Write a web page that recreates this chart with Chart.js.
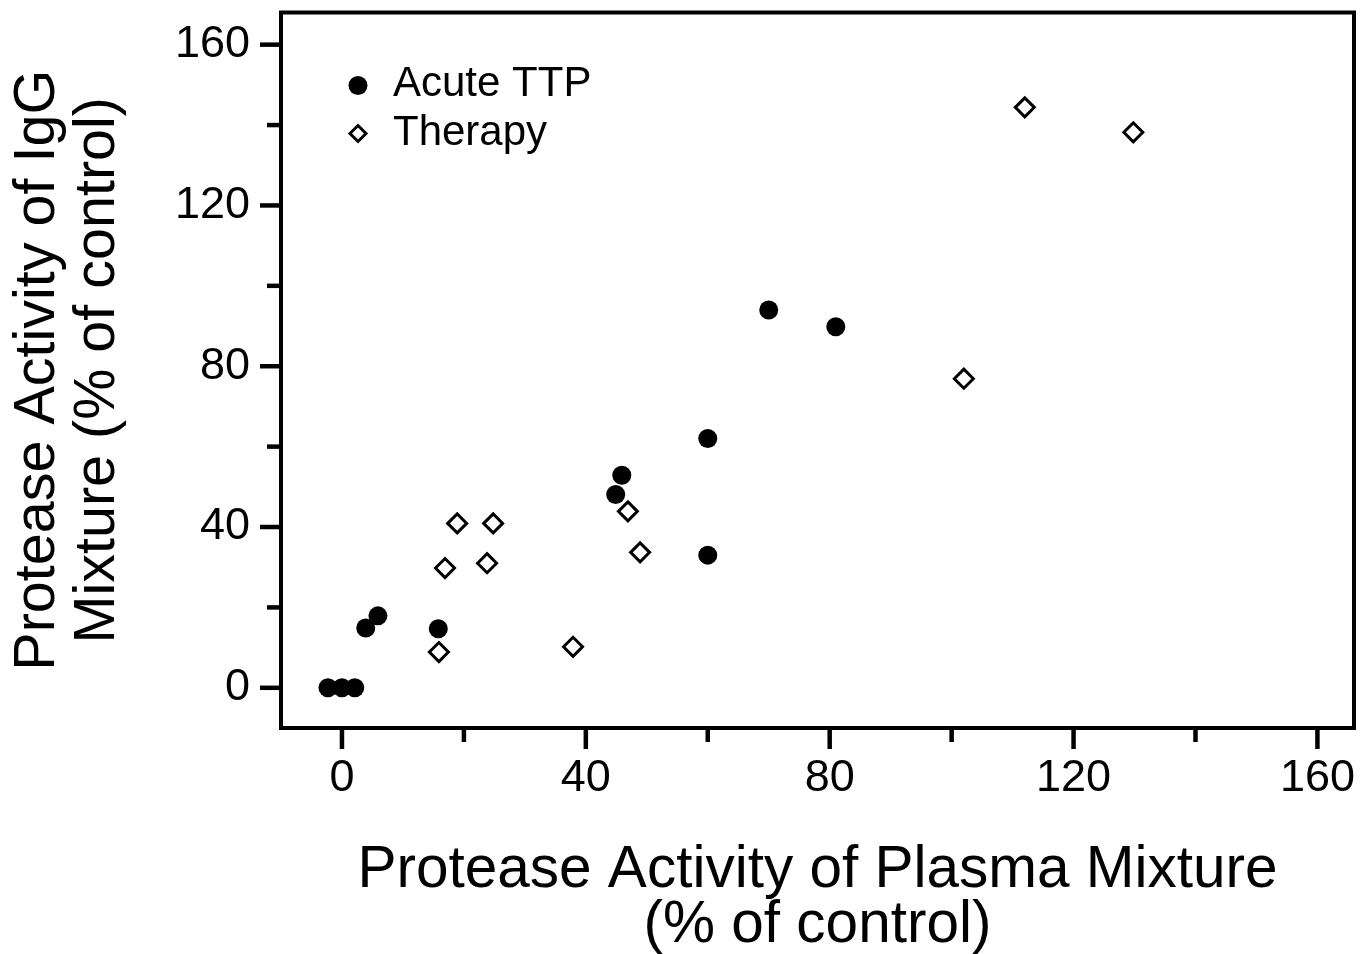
<!DOCTYPE html>
<html>
<head>
<meta charset="utf-8">
<script src="https://cdn.jsdelivr.net/npm/chart.js@4.4.1/dist/chart.umd.min.js"></script>
<style>
    html, body { margin: 0; padding: 0; background: #fff; }
    #wrap { width: 1372px; height: 954px; position: relative; }
</style>
</head>
<body>
<div id="wrap"><canvas id="scatterChart"></canvas></div>
<script>
// values
var acuteX = [-2.3, 0, 2.1, 3.9, 5.9, 15.8, 44.9, 45.9, 60.0, 60.0, 70.0, 81.0];
var acuteY = [0, 0, 0, 14.9, 17.9, 14.7, 48.1, 52.9, 62.0, 33.0, 94.0, 89.8];

var therapyX = [15.9, 16.9, 18.9, 23.8, 24.8, 37.9, 46.9, 48.9, 102.0, 112.0, 129.8];
var therapyY = [8.9, 29.8, 40.9, 31.0, 40.9, 10.2, 43.9, 33.7, 76.9, 144.4, 138.2];

var seriesLabels = ["Acute TTP", "Therapy"];
var xTitle = ["Protease Activity of Plasma Mixture", "(% of control)"];
var yTitle = ["Protease Activity of IgG", "Mixture (% of control)"];

var fontFamily = '"Liberation Sans", Arial, Helvetica, sans-serif';

function toPoints(xs, ys) {
    return xs.map(function (x, i) {
        return { x: x, y: ys[i] };
    });
}

// frame, tick marks and legend
var framePlugin = {
    id: "frame",
    afterDraw: function (chart) {
        var ctx = chart.ctx;
        var a = chart.chartArea;
        var xs = chart.scales.x;
        var ys = chart.scales.y;
        ctx.save();
        ctx.strokeStyle = "#000";
        ctx.lineWidth = 4;
        ctx.strokeRect(a.left, a.top, a.right - a.left, a.bottom - a.top);

        ctx.lineWidth = 4.5;
        xs.ticks.forEach(function (t) {
            var px = xs.getPixelForValue(t.value);
            var len = t.value % 40 === 0 ? 21 : 14;
            ctx.beginPath();
            ctx.moveTo(px, a.bottom);
            ctx.lineTo(px, a.bottom + len);
            ctx.stroke();
        });
        ys.ticks.forEach(function (t) {
            var py = ys.getPixelForValue(t.value);
            var len = t.value % 40 === 0 ? 21 : 14;
            ctx.beginPath();
            ctx.moveTo(a.left, py);
            ctx.lineTo(a.left - len, py);
            ctx.stroke();
        });

        // legend
        var lx = a.left + 77;
        var ly = a.top + 73;
        ctx.fillStyle = "#000";
        ctx.beginPath();
        ctx.arc(lx, ly, 9.5, 0, Math.PI * 2);
        ctx.fill();

        ctx.lineWidth = 3;
        ctx.beginPath();
        ctx.moveTo(lx - 8, ly + 48);
        ctx.lineTo(lx, ly + 40);
        ctx.lineTo(lx + 8, ly + 48);
        ctx.lineTo(lx, ly + 56);
        ctx.closePath();
        ctx.stroke();

        ctx.font = "42px " + fontFamily;
        ctx.textBaseline = "middle";
        ctx.textAlign = "left";
        ctx.fillText(chart.data.datasets[0].label, lx + 35, ly - 1);
        ctx.fillText(chart.data.datasets[1].label, lx + 35, ly + 48);
        ctx.restore();
    }
};

var ctx = document.getElementById("scatterChart").getContext("2d");

var scatterChart = new Chart(ctx, {
    type: "scatter",
    data: {
        datasets: [{
            label: seriesLabels[0],
            data: toPoints(acuteX, acuteY),
            pointStyle: "circle",
            pointRadius: 9.5,
            pointHoverRadius: 9.5,
            backgroundColor: "#000",
            borderColor: "#000",
            borderWidth: 0
        }, {
            label: seriesLabels[1],
            data: toPoints(therapyX, therapyY),
            pointStyle: "rectRot",
            pointRadius: 9.5,
            pointHoverRadius: 9.5,
            backgroundColor: "#fff",
            borderColor: "#000",
            borderWidth: 3
        }]
    },
    options: {
        responsive: true,
        maintainAspectRatio: false,
        animation: false,
        layout: {
            padding: { left: 0, top: 12, right: 18, bottom: 0 }
        },
        plugins: {
            legend: { display: false },
            tooltip: { enabled: false }
        },
        scales: {
            x: {
                type: "linear",
                min: -10,
                max: 166,
                grid: { display: false, drawTicks: false },
                border: { display: false },
                ticks: {
                    stepSize: 20,
                    includeBounds: false,
                    autoSkip: false,
                    maxRotation: 0,
                    padding: 24,
                    color: "#000",
                    font: { family: fontFamily, size: 45 },
                    callback: function (value) {
                        return value % 40 === 0 ? String(value) : "";
                    }
                },
                title: {
                    display: true,
                    text: xTitle,
                    color: "#000",
                    font: { family: fontFamily, size: 58.5, lineHeight: 0.95 },
                    padding: { top: 0, bottom: 0 }
                },
                afterFit: function (s) {
                    s.height = 226;
                    s.paddingLeft = 0;
                    s.paddingRight = 0;
                }
            },
            y: {
                type: "linear",
                min: -10,
                max: 168,
                grid: { display: false, drawTicks: false },
                border: { display: false },
                ticks: {
                    stepSize: 20,
                    includeBounds: false,
                    autoSkip: false,
                    padding: 31,
                    color: "#000",
                    font: { family: fontFamily, size: 45 },
                    callback: function (value) {
                        return value % 40 === 0 ? String(value) : "";
                    }
                },
                title: {
                    display: true,
                    text: yTitle,
                    color: "#000",
                    font: { family: fontFamily, size: 57.5, lineHeight: 1.04 },
                    padding: { top: 8, bottom: 0 }
                },
                afterFit: function (s) {
                    s.width = 281;
                    s.paddingTop = 0;
                    s.paddingBottom = 0;
                }
            }
        }
    },
    plugins: [framePlugin]
});
</script>
</body>
</html>
